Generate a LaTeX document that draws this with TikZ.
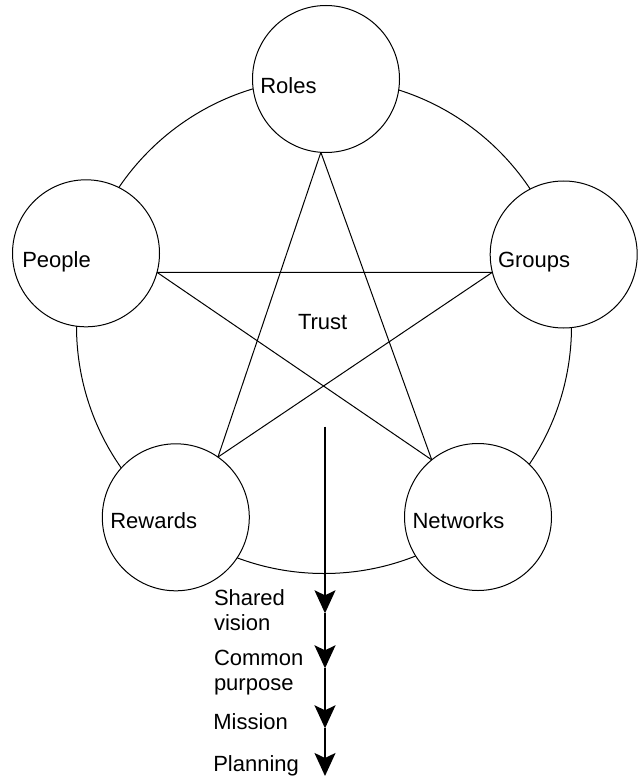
\documentclass[tikz,border=0pt]{standalone}
\usepackage{fontspec}
\setmainfont{Liberation Sans}
\usetikzlibrary{arrows.meta}
\begin{document}
\begin{tikzpicture}[x=1pt,y=-1pt,
  every node/.style={inner sep=0pt, outer sep=0pt},
  ring/.style={draw, line width=1pt, fill=white, circle, minimum size=147pt},
  lbl/.style={anchor=base west, font=\fontsize{22pt}{25pt}\selectfont, align=left},
  edge/.style={line width=1pt},
  flow/.style={line width=2pt, -{Stealth[length=23pt, width=21pt, inset=5pt]}},
  flowfirst/.style={line width=1.3pt, -{Stealth[length=23pt, width=21pt, inset=5pt]}}]
\useasboundingbox (0,0) rectangle (641,778);
% outer ring
\coordinate (ringc) at (324,326);
\draw[edge] (ringc) circle[radius=247.5pt];
% circles
\node[ring] (roles) at (326,79) {};
\node[ring] (people) at (86,253.3) {};
\node[ring] (groups) at (563.7,254.5) {};
\node[ring] (rewards) at (175.8,517.3) {};
\node[ring] (networks) at (478,517) {};
% labels
\node[lbl] (tRoles) at (260.3,94) {Roles};
\node[lbl] (tPeople) at (22.3,267) {People};
\node[lbl] (tGroups) at (498,267.7) {Groups};
\node[lbl] (tRewards) at (110.3,528) {Rewards};
\node[lbl] (tNetworks) at (412.6,528) {Networks};
\node[lbl] (tTrust) at (298,329.3) {Trust};
% star
\draw[edge] (roles.266.6) -- (rewards.55.3);
\draw[edge] (roles.266.6) -- (networks.129.8);
\draw[edge] (people.345) -- (groups.194);
\draw[edge] (people.345) -- (networks.129.8);
\draw[edge] (groups.194) -- (rewards.55.3);
% flow arrow
\coordinate (a0) at (325,426.7);
\coordinate (a1) at (325,613.3);
\coordinate (a2) at (325,668.3);
\coordinate (a3) at (325,728.3);
\coordinate (a4) at (325,776);
\draw[flowfirst] (a0) -- (a1);
\draw[flow] (a1) -- (a2);
\draw[flow] (a2) -- (a3);
\draw[flow] (a3) -- (a4);
\node[lbl] (sv) at (214,630.7) {Shared\\vision};
\node[lbl] (cp) at (214,690) {Common\\purpose};
\node[lbl] (mi) at (213.3,729.3) {Mission};
\node[lbl] (pl) at (213.3,771.7) {Planning};
\end{tikzpicture}
\end{document}
